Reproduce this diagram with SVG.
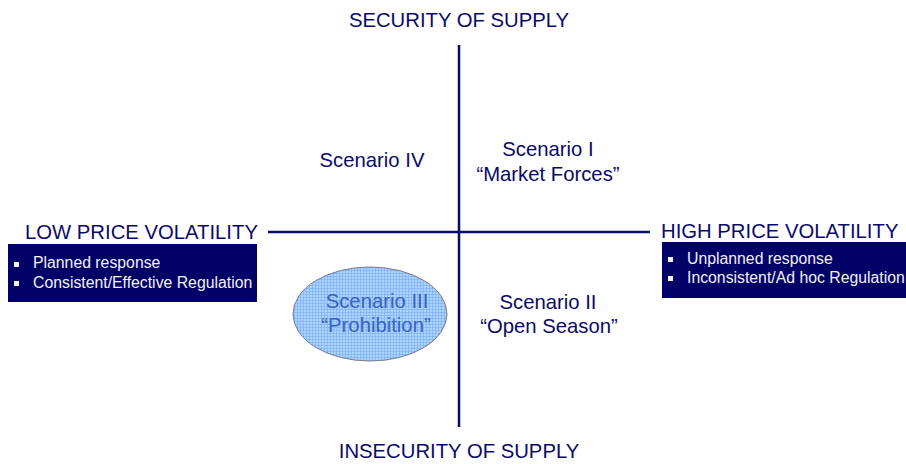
<svg xmlns="http://www.w3.org/2000/svg" width="906" height="464" viewBox="0 0 906 464">
<style>
text{font-family:"Liberation Sans",Arial,sans-serif;fill:#0a0a6b}
.t{font-size:20.3px}
.c{text-anchor:middle}
.b{font-size:15.8px;fill:#f2f2f8}
.box{fill:#000066}
.bul{fill:#f2f2f8}
.axis{stroke:#0a0a6b;stroke-width:2.5}
</style>
<defs>
<pattern id="grid" width="3" height="3" patternUnits="userSpaceOnUse">
<rect width="3" height="3" fill="#a8d4ff"/>
<path d="M0 0.5H3M0.5 0V3" stroke="#7fb0f0" stroke-width="0.7"/>
</pattern>
</defs>
<g id="connectors">
<line class="axis" x1="459" y1="45" x2="459" y2="427"/>
<line class="axis" x1="268" y1="232" x2="650" y2="232"/>
</g>
<g id="top"><text class="t c" x="459" y="27">SECURITY OF SUPPLY</text></g>
<g id="bottom"><text class="t c" x="459" y="458">INSECURITY OF SUPPLY</text></g>
<g id="low">
<text class="t" x="25" y="239">LOW PRICE VOLATILITY</text>
<rect class="box" x="8" y="244" width="249" height="58"/>
<rect class="bul" x="14" y="262" width="5" height="5"/>
<rect class="bul" x="14" y="281" width="5" height="5"/>
<text class="b" x="33" y="268">Planned response</text>
<text class="b" x="33" y="288">Consistent/Effective Regulation</text>
</g>
<g id="high">
<text class="t" x="661" y="238">HIGH PRICE VOLATILITY</text>
<rect class="box" x="662" y="242" width="244" height="56"/>
<rect class="bul" x="668" y="257" width="5" height="5"/>
<rect class="bul" x="668" y="276" width="5" height="5"/>
<text class="b" x="687" y="264">Unplanned response</text>
<text class="b" x="687" y="283">Inconsistent/Ad hoc Regulation</text>
</g>
<g id="s4"><text class="t c" x="372" y="167">Scenario IV</text></g>
<g id="s1"><text class="t c" x="548" y="156">Scenario I</text><text class="t c" x="548" y="181">“Market Forces”</text></g>
<g id="s2"><text class="t c" x="548" y="309">Scenario II</text><text class="t c" x="549" y="333">“Open Season”</text></g>
<g id="s3">
<ellipse cx="370" cy="314" rx="77" ry="47" fill="url(#grid)" stroke="#7a7a8a" stroke-width="1"/>
<text class="t c" x="377" y="308" style="fill:#3a62c0">Scenario III</text>
<text class="t c" x="376" y="332" style="fill:#3a62c0">“Prohibition”</text>
</g>
</svg>
